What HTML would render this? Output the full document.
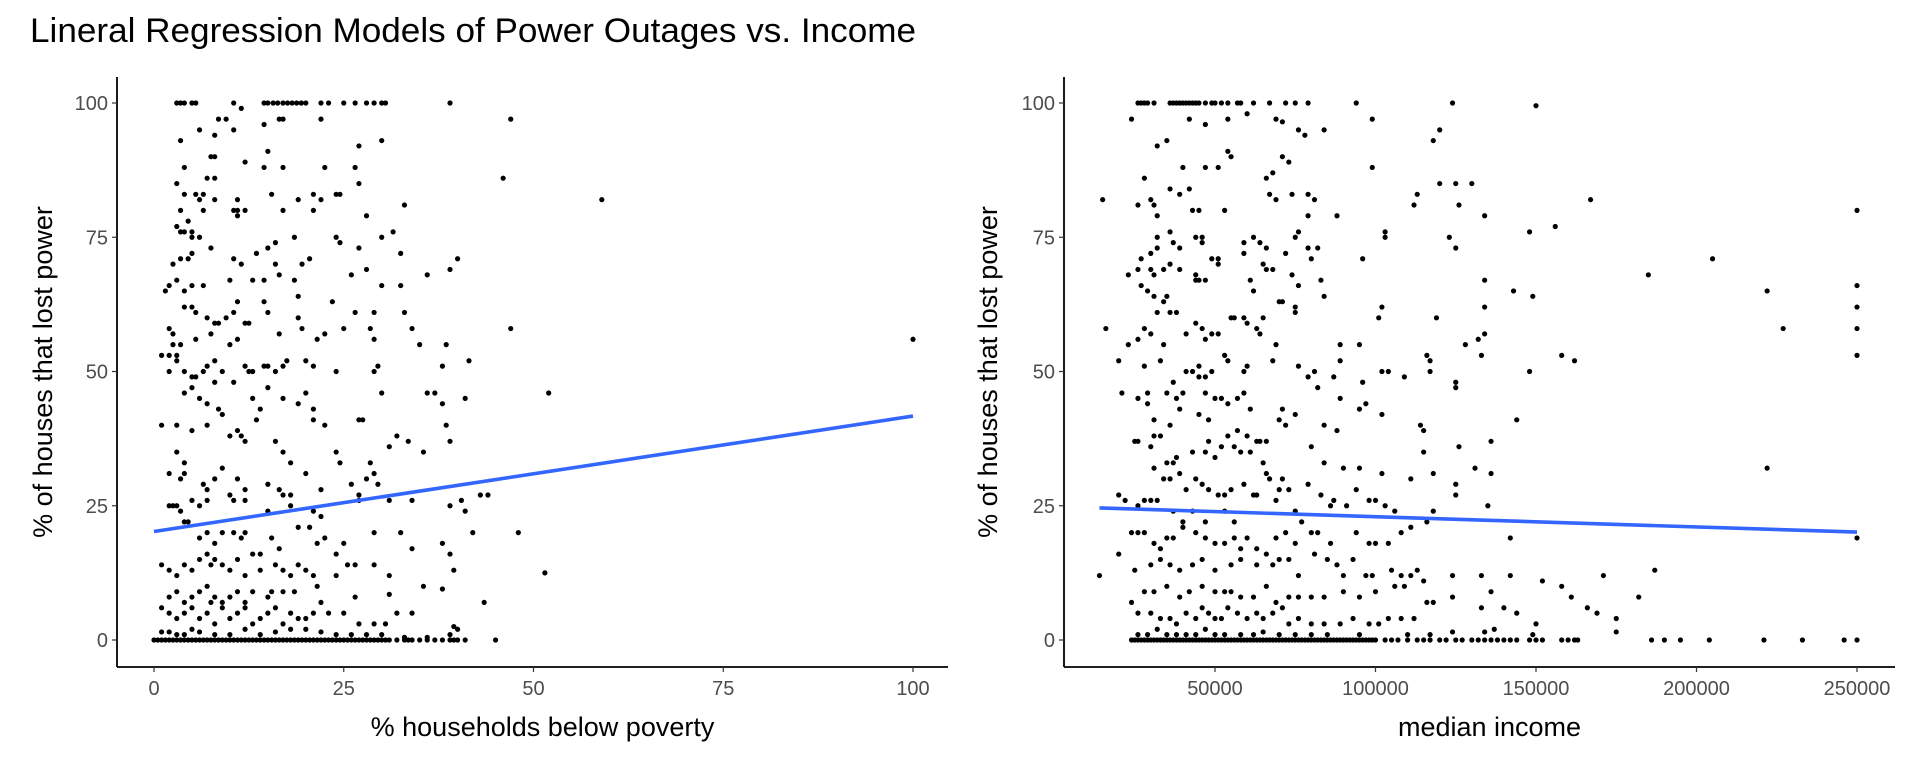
<!DOCTYPE html>
<html><head><meta charset="utf-8"><style>
html,body{margin:0;padding:0;background:#fff;}
svg{display:block;font-family:"Liberation Sans",sans-serif;}
</style></head><body>
<svg id="chart" width="1920" height="768" viewBox="0 0 1920 768">
<text x="30" y="42" font-size="34" textLength="886" lengthAdjust="spacingAndGlyphs" fill="#000">Lineral Regression Models of Power Outages vs. Income</text>
</svg>
<script>
const leftXTicks=[0,25,50,75,100];
const rightXTicks=[50000,100000,150000,200000,250000];
const yTicks=[0,25,50,75,100];
const leftFit=[[0,20.2],[100,41.7]];
const rightFit=[[14000,24.6],[250000,20.1]];
const leftPoints=[[3,100],[3.5,100],[4,100],[5,100],[5.5,100],[10.5,100],[11.5,99],[14.5,100],[15,100],[15.7,100],[16.3,100],[17,100],[17.6,100],[18.2,100],[18.8,100],[19.4,100],[20,100],[22,100],[23,100],[25,100],[26.5,100],[28,100],[29,100],[30,100],[30.5,100],[39,100],
[8.5,97],[9.5,97],[16.5,97],[17,97],[22,97],[47,97],[6,95],[8,94],[10.5,95],[14.5,96],[3.5,93],[15,91],[27,92],[30,93],[7.5,90],[8,90],[4,88],[12,89],[14.5,88],[17,88],[22.5,88],[26.5,88],[3,85],[7,86],[8,86],[46,86],[5.5,83],[6,82],[11,80],[21,83],[24,83],[27,85],[4,83],[6.5,83],[8,82],[11,82],[15.5,83],[19,82],[22,82],[24.5,83],[59,82],[3.5,80],[6.5,80],[10.5,80],[12,80],[17,80],[21,80],[33,81],[4.5,78],[11,79],[28,79],[3,77],[3.5,76],[4,76],[5,76],[30,75],[31.5,76],[5,75],[6,75],[7.5,73],[15,73],[16,74],[18.5,75],[24,75],[24.5,74],[13.5,72],[27,73],[32.5,72],[2.5,70],[3.5,71],[4.5,71],[5,72],[10.5,71],[11.5,70],[16,70],[19.5,70],[20.5,71],[36,68],[40,71],[39,69],[1.5,65],[2,66],[3,67],[4,65],[5,66],[6.5,66],[10,67],[13,67],[14.5,67],[16.5,68],[18.5,67],[26,68],[28,69],[32.5,66],[30,66],[4,62],[5,62],[5.5,61],[7,60],[8,59],[8.5,59],[9.5,60],[10.5,61],[11,63],[12,59],[12.5,59],[14.5,63],[15,61],[19,64],[19,60],[23.5,63],[26.5,61],[29,61],[33,61],[2,58],[2.5,57],[5.5,56],[7.5,57],[10,55],[11,56],[16.5,57],[19.5,58],[21.5,56],[22.5,57],[25,58],[28.5,58],[29,56],[34,58],[47,58],[1,53],[2,53],[2.5,55],[3,53],[3.5,55],[2,50],[3,52],[4,50],[5,49],[5.5,49],[6.5,50],[7,51],[8,52],[9,50],[10.5,48],[12,51],[12.5,50],[13,50],[14.5,51],[15,51],[16,50],[17,51],[17.5,52],[20,52],[21,51],[24,50],[29,50],[29.5,51],[35,55],[38,51],[38.5,55],[41.5,52],[100,56],[4,46],[5,47],[6,45],[7,44],[8,48],[8.5,43],[13,45],[14,43],[15,47],[17,45],[19,44],[20,46],[21,43],[30,46],[36,46],[37,46],[38,44],[41,45],[52,46],[1,40],[3,40],[5,39],[7,40],[9,42],[10,38],[11,39],[12,37],[11.5,38],[13.5,41],[16,37],[17,35],[18,33],[21,41],[22.5,40],[27,41],[27.5,41],[31,36],[32,38],[33.5,37],[35.5,35],[38.5,40],[39,37],[3,35],[4,33],[2,31],[3.5,30],[4,31],[6.5,29],[7,28],[8,30],[9,32],[10,27],[11,30],[12,28],[15,29],[16.5,28],[17,27],[18,27],[20,31],[22,28],[24,35],[24.5,33],[26,29],[27,27],[28,30],[28.5,33],[29,31],[29.5,29],[2,25],[2.5,25],[3,25],[3.5,24],[5,26],[6,25],[7,26],[10.5,26],[12,26],[15,24],[18,25],[21,24],[22,23],[27,26],[31,26],[34,26],[39,25],[40.5,26],[41,24],[43,27],[44,27],[4,22],[4.5,22],[6,19],[7,20],[8,18],[9,20],[10.5,20],[11.5,19],[12,20],[13,16],[14,16],[15.5,19],[16.5,17],[19,21],[20.5,21],[21.5,18],[22.5,19],[24,16],[25,18],[29,20],[32.5,20],[34,17],[38,18],[39,16],[42,20],[48,20],[1,14],[2,13],[3,12],[4,14],[5,13],[6,15],[7,16],[7.5,14],[8,15],[9,14],[10,13],[11,15],[12,12],[14,13],[16,14],[17,13],[18,12],[19,14],[20,13],[21,12],[24,12],[25.5,14],[26.5,14],[29,14],[31,12],[39.5,13],[51.5,12.5],[2,8],[3,9],[4,7],[5,8],[6,9],[7,10],[7.5,7],[8,8],[9,7],[10,8],[11,9],[12,7],[13,9],[15,8],[15.5,9],[17,9],[18.5,9],[21.5,10],[22,7],[26.5,8],[31,8.5],[35.5,10],[38,9.5],[43.5,7],[1,6],[2,5],[3,4],[4,5],[5,6],[6,4],[7,5],[8,3],[9,6],[10,4],[11,5],[12,6],[13,3],[14,4],[15,5],[16,6],[17,3],[18,5],[19,4],[20,4],[21,5],[23,5],[25,5],[27,3],[29,3],[30.5,3],[32,5],[34,5],[39.5,2.5],[40,2],[39,1],[1,1.5],[2,1.5],[3,1],[4,1],[5,2],[6,1.5],[8,1],[10,1],[12,2],[14,1],[16,1.5],[18,2],[20,2],[22,1.5],[24,1],[26,1],[28,1],[30,1],[33,0.5],[36,0.5]];
const leftZeroX=[0,0.5,1,1.5,2,2.5,3,3.5,4,4.5,5,5.5,6,6.5,7,7.5,8,8.5,9,9.5,10,10.5,11,11.5,12,12.5,13,13.5,14,14.5,15,15.5,16,16.5,17,17.5,18,18.5,19,19.5,20,20.5,21,21.5,22,22.5,23,23.5,24,24.5,25,25.5,26,26.5,27,27.5,28,28.5,29,29.5,30,30.5,31,32,33,33.5,34,35,36,37,38,39,39.5,40,41,45];
const rightPoints=[[26,100],[27,100],[28,100],[29,100],[31,100],[36,100],[37,100],[38,100],[39,100],[40,100],[41,100],[42,100],[43,100],[44,100],[45,100],[47,100],[49,100],[50,100],[52,100],[54,100],[57,100],[58,100],[62,100],[67,100],[72,100],[75,100],[79,100],[94,100],[124,100],
[150,99.5],[24,97],[42,97],[54,97],[60,98],[69,97],[71,96.5],[99,97],[47,96],[76,95],[78,94],[84,95],[120,95],[118,93],[35,93],[32,92],[54,91],[55,90],[71,90],[73,89],[40,88],[47,88],[51,88],[68,87],[99,88],[28,86],[66,86],[36,84],[39,83],[42,84],[67,83],[74,83],[79,83],[81,82],[30,82],[31,81],[15,82],[26,81],[69,82],[113,83],[120,85],[125,85],[130,85],[112,81],[126,81],[167,82],[43,80],[45,80],[53,80],[79,79],[88,79],[32,79],[134,79],[250,80],[36,76],[37,74],[39,73],[44,75],[46,75],[46,74],[32,75],[30,72],[32,73],[49,71],[51,71],[51,70],[59,72],[59,74],[62,75],[64,74],[66,73],[72,72],[75,75],[76,76],[79,73],[80,71],[82,73],[96,71],[103,76],[103,75],[123,75],[125,73],[148,76],[156,77],[23,68],[26,69],[27,71],[30,69],[31,68],[34,69],[36,70],[39,69],[44,68],[44,67],[45,67],[47,67],[61,67],[65,70],[66,69],[68,69],[74,68],[76,66],[83,67],[134,67],[185,68],[205,71],[27,66],[29,65],[31,64],[32,61],[34,63],[35,64],[36,61],[38,61],[62,65],[70,63],[71,63],[75,62],[84,64],[102,62],[134,62],[143,65],[149,64],[222,65],[250,66],[250,62],[250,58],[227,58],[250,53],[16,58],[23,55],[26,56],[28,58],[30,57],[34,55],[41,57],[44,59],[46,58],[47,56],[49,57],[51,57],[55,60],[56,60],[59,60],[60,59],[63,58],[65,60],[64,57],[69,55],[75,61],[101,60],[119,60],[89,55],[95,55],[116,53],[128,55],[132,56],[133,53],[134,57],[158,53],[162,52],[20,52],[28,51],[33,52],[41,50],[43,50],[45,51],[47,49],[49,50],[53,53],[54,52],[59,50],[60,51],[68,52],[76,51],[79,49],[81,50],[87,49],[89,52],[97,44],[102,50],[104,50],[109,49],[117,50],[117,52],[125,48],[125,47],[148,50],[21,46],[29,46],[29,44],[35,46],[37,48],[38,45],[40,46],[45,49],[47,46],[50,45],[52,45],[54,44],[57,45],[59,46],[61,43],[71,43],[75,42],[82,47],[89,45],[96,48],[26,45],[31,41],[39,43],[45,42],[48,41],[54,38],[57,39],[60,38],[63,37],[66,37],[70,41],[72,40],[84,40],[88,39],[95,43],[102,42],[114,40],[115,39],[136,37],[144,41],[25,37],[26,37],[30,36],[31,38],[33,38],[35,33],[37,33],[38,34],[36,40],[43,35],[47,35],[48,37],[50,34],[52,36],[56,36],[58,35],[61,35],[64,37],[65,33],[80,36],[84,33],[90,32],[95,32],[115,35],[131,32],[136,31],[126,36],[31,32],[34,30],[36,30],[39,31],[41,28],[44,30],[46,29],[48,28],[51,27],[53,27],[55,28],[59,29],[62,27],[66,31],[67,30],[70,28],[71,30],[73,28],[79,29],[83,27],[87,26],[91,25],[94,28],[98,26],[102,31],[111,30],[118,31],[125,29],[125,27],[135,25],[222,32],[20,27],[22,26],[28,26],[30,26],[32,26],[37,24],[40,22],[43,24],[47,22],[53,24],[56,22],[63,27],[69,26],[75,24],[80,20],[86,25],[100,26],[103,25],[106,24],[118,24],[26,25],[24,20],[26,20],[28,20],[31,18],[33,17],[35,19],[37,19],[40,21],[44,20],[47,19],[50,18],[53,18],[56,19],[58,17],[60,19],[63,17],[66,16],[69,19],[72,20],[75,18],[77,22],[82,20],[86,18],[94,20],[98,18],[100,18],[104,18],[108,20],[111,21],[116,22],[142,19],[250,19],[20,16],[25,13],[30,14],[33,15],[36,14],[39,13],[43,14],[46,15],[50,13],[55,14],[58,15],[63,14],[68,14],[70,15],[73,15],[76,12],[81,16],[85,15],[88,14],[90,12],[93,15],[97,12],[99,12],[105,13],[108,12],[111,12],[113,13],[115,11],[124,12],[133,12],[142,12],[152,11],[158,10],[171,12],[187,13],[14,12],[24,7],[28,9],[31,9],[35,10],[39,8],[42,9],[46,10],[50,9],[53,9],[55,9],[58,8],[62,8],[66,10],[69,7],[73,8],[76,8],[80,8],[84,8],[90,9],[95,8],[100,9],[106,10],[109,10],[116,7],[118,7],[124,8],[136,9],[161,8],[182,8],[26,5],[30,5],[33,4],[36,4],[38,3],[41,5],[44,4],[46,6],[48,5],[50,4],[52,4],[54,6],[57,5],[60,4],[63,5],[65,4],[68,5],[71,6],[73,3],[76,4],[80,3],[84,3],[89,3],[93,4],[98,3],[101,3],[104,4],[108,4],[112,4],[133,6],[140,6],[144,5],[150,3],[166,6],[169,5],[175,4],[175,1.5],[26,1],[29,1],[32,2],[35,1],[38,1],[41,1],[44,1],[47,2],[50,1],[53,1],[58,1],[62,1],[65,1.5],[70,1],[75,1],[80,1],[85,1],[95,1],[110,1],[117,1],[124,1.5],[134,1.5],[137,2],[149,1]];
const rightZeroXk=[24,25,26,27,28,29,30,31,32,33,34,35,36,37,38,39,40,41,42,43,44,45,46,47,48,49,50,51,52,53,54,55,56,57,58,59,60,61,62,63,64,65,66,67,68,69,70,71,72,73,74,75,76,77,78,79,80,81,82,83,84,85,86,87,88,89,90,91,92,93,94,95,96,97,98,99,100,103,105,107,110,113,115,117,120,122,125,127,130,132,134,136,138,140,142,144,148,150,152,158,160,162,163,186,190,195,204,221,233,246,250];

const NS='http://www.w3.org/2000/svg';
const svg=document.getElementById('chart');
const AX_Y=667;
function mk(tag,attrs,parent,text){const e=document.createElementNS(NS,tag);for(const k in attrs)e.setAttribute(k,attrs[k]);if(text!==undefined)e.textContent=text;(parent||svg).appendChild(e);return e;}
function yScale(v){return 640-(v/100)*(640-103);}
function lx(v){return 154+v*(913-154)/100;}
function rx(v){return 1054.5+v*(1857-1215)/200000;}

function panel(name,axisX,axisEnd,xs,xTicks,xTitle,points,zeroX,fit,xMul,titleCx){
  const g=mk('g',{},svg);
  
  
  const pts=mk('g',{fill:'#000'},g);
  
  
  points.forEach(p=>{const c=mk('circle',{cx:xs(p[0]*xMul),cy:yScale(p[1]),r:2.6},pts);
    
    });
  zeroX.forEach(x=>{const c=mk('circle',{cx:xs(x*xMul),cy:yScale(0),r:2.6},pts);
    
    });
  const fl=mk('line',{x1:xs(fit[0][0]),y1:yScale(fit[0][1]),x2:xs(fit[1][0]),y2:yScale(fit[1][1]),stroke:'#3366FF','stroke-width':3.6},g);
  
  
  const ya=mk('line',{x1:axisX,y1:77,x2:axisX,y2:AX_Y,stroke:'#000','stroke-width':1.8},g);
  
  
  const xa=mk('line',{x1:axisX,y1:AX_Y,x2:axisEnd,y2:AX_Y,stroke:'#000','stroke-width':1.8},g);
  
  
  yTicks.forEach(t=>{const y=yScale(t);
    mk('line',{x1:axisX-5,y1:y,x2:axisX,y2:y,stroke:'#333','stroke-width':1.2},g);
    const tl=mk('text',{x:axisX-9,y:y+7,'font-size':20,fill:'#4D4D4D','text-anchor':'end'},g,String(t));
    
    });
  xTicks.forEach(t=>{const x=xs(t);
    mk('line',{x1:x,y1:AX_Y,x2:x,y2:AX_Y+5,stroke:'#333','stroke-width':1.2},g);
    const tl=mk('text',{x:x,y:695,'font-size':20,fill:'#4D4D4D','text-anchor':'middle'},g,String(t));
    
    });
  const xt=mk('text',{x:(axisX+axisEnd)/2+10,y:736,'font-size':27,fill:'#000','text-anchor':'middle'},g,xTitle);
  
  
  const cx=titleCx, cy=372;
  const yt=mk('text',{x:cx,y:cy,'font-size':27,fill:'#000','text-anchor':'middle',transform:`rotate(-90 ${cx} ${cy})`},g,'% of houses that lost power');
  
  
}
panel('poverty-panel',117,948,lx,leftXTicks,'% households below poverty',leftPoints,leftZeroX,leftFit,1,52);
panel('income-panel',1064,1895,rx,rightXTicks,'median income',rightPoints,rightZeroXk,rightFit,1000,997);
</script>
</body></html>
